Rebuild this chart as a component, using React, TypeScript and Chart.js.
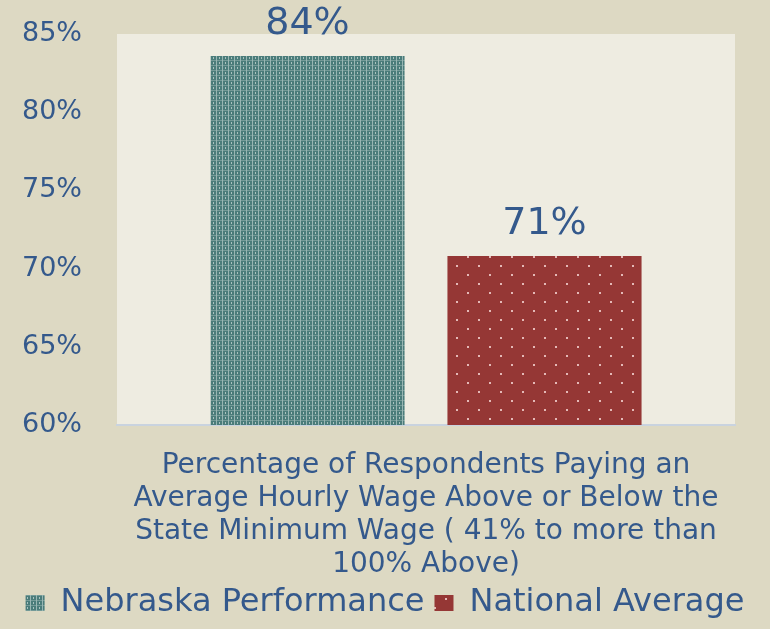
import React, { useEffect, useRef } from 'react';
import { Chart, registerables } from 'chart.js';

Chart.register(...registerables);

// ---- Data ----
const categories: string[][] = [[
  'Percentage of Respondents Paying an',
  'Average Hourly Wage Above or Below the',
  'State Minimum Wage ( 41% to more than',
  '100% Above)',
]];
const seriesNames = ['Nebraska Performance', 'National Average'];
const nebraskaValues = [83.6];
const nationalValues = [70.8];
const yMin = 60;
const yMax = 85;
const yStep = 5;

const FONT = "'DejaVu Sans', sans-serif";
const TEXT = '#34598C';

function makeTealPattern(): CanvasPattern | string {
  const c = document.createElement('canvas');
  c.width = 6; c.height = 5;
  const g = c.getContext('2d');
  if (!g) return '#4E807E';
  g.fillStyle = '#4A7C7A';
  g.fillRect(0, 0, 6, 5);
  g.fillStyle = '#739A97';
  g.fillRect(0, 0, 6, 1);
  g.fillStyle = '#98B6B3';
  g.fillRect(0, 0, 1, 5);
  g.fillStyle = '#A9C2BF';
  g.fillRect(3, 2, 1, 2);
  const p = g.createPattern(c, 'repeat');
  return p || '#4E807E';
}

function makeRedPattern(): CanvasPattern | string {
  const c = document.createElement('canvas');
  c.width = 22; c.height = 18;
  const g = c.getContext('2d');
  if (!g) return '#953735';
  g.fillStyle = '#953735';
  g.fillRect(0, 0, 22, 18);
  g.fillStyle = '#E4B9B7';
  g.fillRect(5, 4, 2, 2);
  g.fillRect(16, 13, 2, 2);
  const p = g.createPattern(c, 'repeat');
  return p || '#953735';
}

const bgPlugin = {
  id: 'bgPlugin',
  beforeDraw(chart: any) {
    const { ctx, chartArea, width, height } = chart;
    ctx.save();
    ctx.fillStyle = '#DDD9C3';
    ctx.fillRect(0, 0, width, height);
    ctx.fillStyle = '#EEECE1';
    ctx.fillRect(chartArea.left, chartArea.top, chartArea.right - chartArea.left, chartArea.bottom - chartArea.top);
    ctx.restore();
  },
};

const valueLabelPlugin = {
  id: 'valueLabelPlugin',
  afterDatasetsDraw(chart: any) {
    const { ctx } = chart;
    ctx.save();
    ctx.fillStyle = TEXT;
    ctx.font = `38px ${FONT}`;
    ctx.textAlign = 'center';
    ctx.textBaseline = 'alphabetic';
    chart.data.datasets.forEach((ds: any, i: number) => {
      const meta = chart.getDatasetMeta(i);
      meta.data.forEach((bar: any, j: number) => {
        const v = ds.data[j] as number;
        ctx.fillText(Math.round(v) + '%', bar.x, bar.y - 22);
      });
    });
    ctx.restore();
  },
};

export default function App() {
  const ref = useRef<HTMLCanvasElement | null>(null);

  useEffect(() => {
    if (!ref.current) return;
    const chart = new Chart(ref.current, {
      type: 'bar',
      data: {
        labels: categories as any,
        datasets: [
          {
            label: seriesNames[0],
            data: nebraskaValues,
            backgroundColor: makeTealPattern() as any,
            borderWidth: 0,
            categoryPercentage: 0.767,
            barPercentage: 0.819,
          },
          {
            label: seriesNames[1],
            data: nationalValues,
            backgroundColor: makeRedPattern() as any,
            borderWidth: 0,
            categoryPercentage: 0.767,
            barPercentage: 0.819,
          },
        ],
      },
      options: {
        animation: false,
        responsive: true,
        maintainAspectRatio: false,
        layout: { padding: { left: 0, right: 0, top: 34, bottom: 0 } },
        scales: {
          x: {
            grid: { display: false },
            border: { display: true, color: '#C9D3DF', width: 2 },
            ticks: {
              color: TEXT,
              padding: 16,
              maxRotation: 0,
              autoSkip: false,
              font: { family: FONT, size: 28, lineHeight: 33 / 28 },
            },
            afterFit: (s: any) => { s.height = 152; s.paddingLeft = 0; s.paddingRight = 0; },
          },
          y: {
            min: yMin,
            max: yMax,
            grid: { display: false },
            border: { display: false },
            ticks: {
              stepSize: yStep,
              color: TEXT,
              padding: 27,
              font: { family: FONT, size: 27 },
              callback: (v: any) => v + '%',
            },
            afterFit: (s: any) => { s.width = 117; s.paddingTop = 0; s.paddingBottom = 0; },
          },
          yRight: {
            type: 'linear',
            position: 'right',
            display: true,
            grid: { display: false },
            border: { display: false },
            ticks: { display: false },
            afterFit: (s: any) => { s.width = 35; s.paddingTop = 0; s.paddingBottom = 0; },
          },
        },
        plugins: {
          legend: {
            position: 'bottom',
            labels: {
              color: TEXT,
              font: { family: FONT, size: 32 },
              boxWidth: 19,
              boxHeight: 16,
              padding: 10,
            },
          },
          tooltip: { enabled: false },
          title: { display: false },
        },
      },
      plugins: [bgPlugin, valueLabelPlugin],
    });
    return () => chart.destroy();
  }, []);

  return (
    <div style={{ position: 'absolute', left: 0, top: 0, width: 770, height: 629 }}>
      <canvas ref={ref} />
    </div>
  );
}
